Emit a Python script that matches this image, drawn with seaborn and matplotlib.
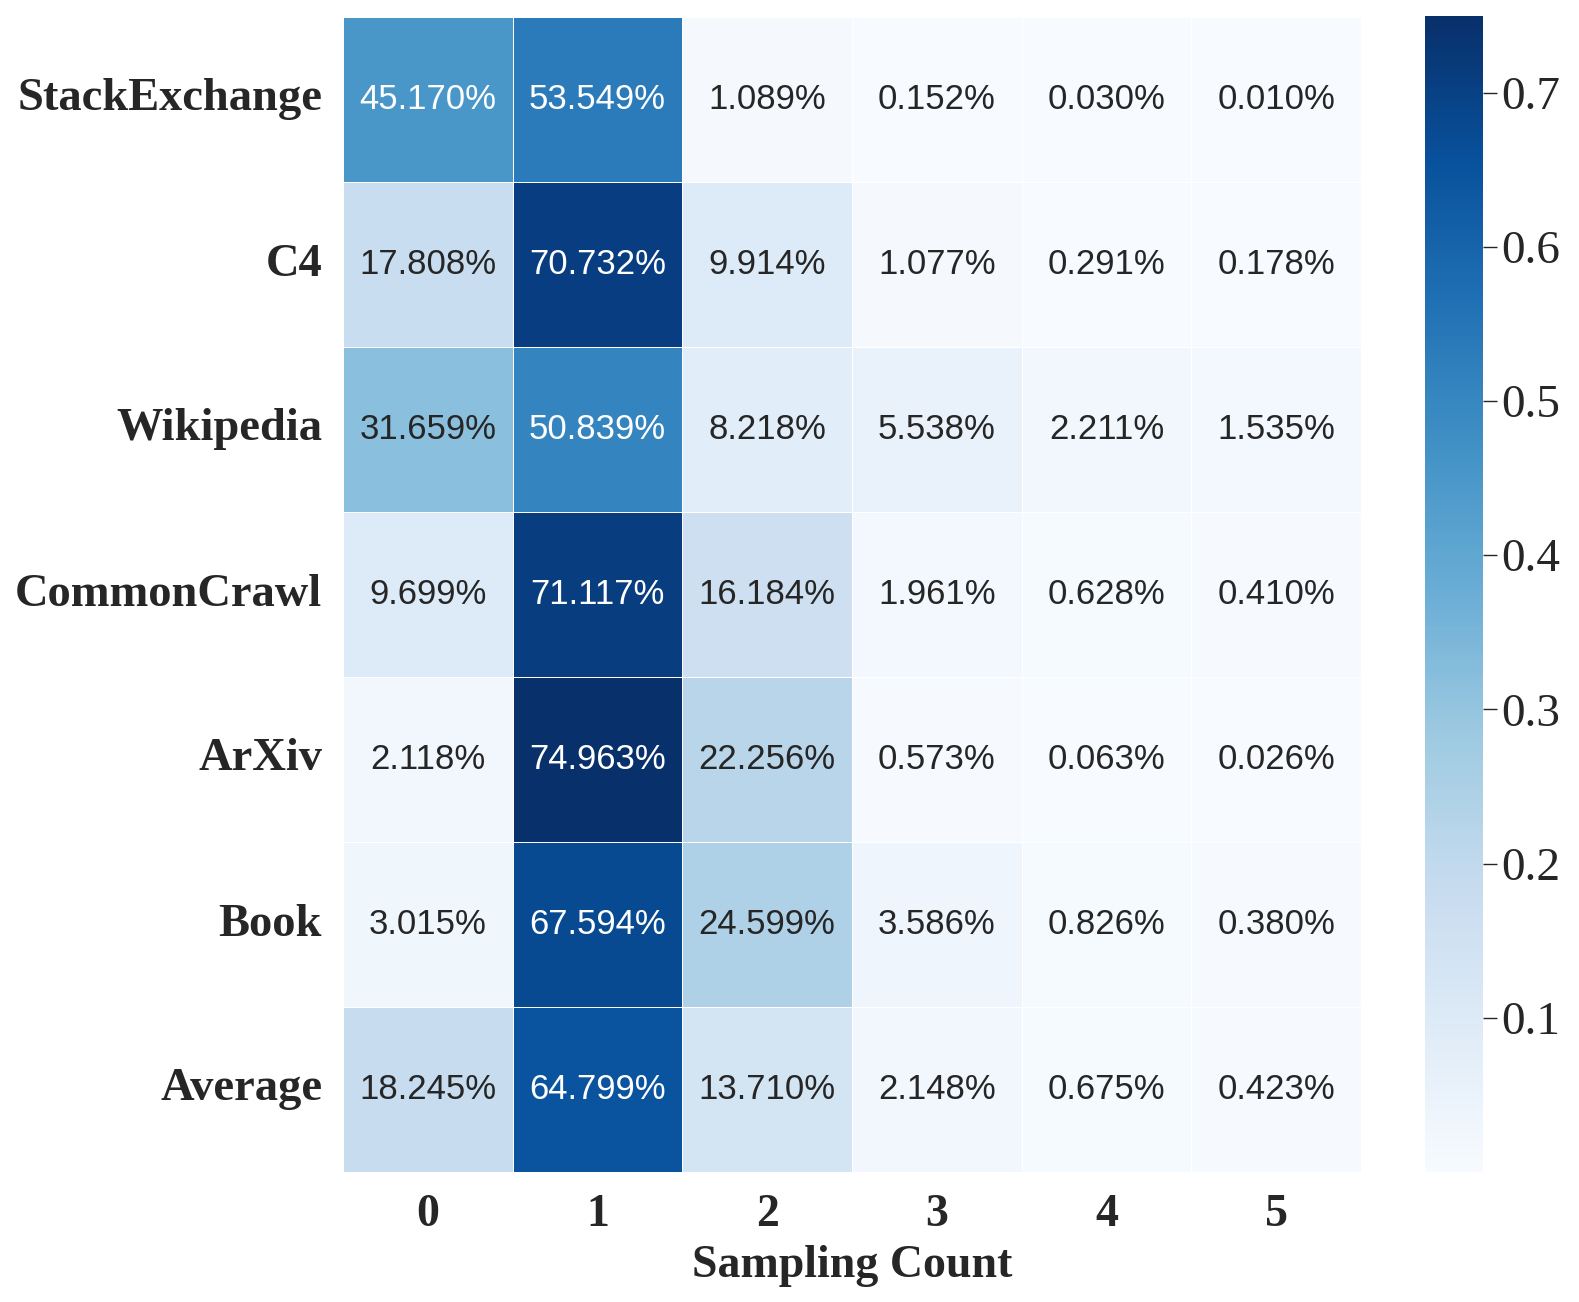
import numpy as np
import pandas as pd
import seaborn as sns
from matplotlib import pyplot as plt

# ----------------- data
sources = ['StackExchange', 'C4', 'Wikipedia', 'CommonCrawl', 'ArXiv', 'Book', 'Average']
counts = ['0', '1', '2', '3', '4', '5']

stackexchange = [45.170, 53.549, 1.089, 0.152, 0.030, 0.010]
c4 = [17.808, 70.732, 9.914, 1.077, 0.291, 0.178]
wikipedia = [31.659, 50.839, 8.218, 5.538, 2.211, 1.535]
commoncrawl = [9.699, 71.117, 16.184, 1.961, 0.628, 0.410]
arxiv = [2.118, 74.963, 22.256, 0.573, 0.063, 0.026]
book = [3.015, 67.594, 24.599, 3.586, 0.826, 0.380]
average = [18.245, 64.799, 13.710, 2.148, 0.675, 0.423]

rows = [stackexchange, c4, wikipedia, commoncrawl, arxiv, book, average]
df = pd.DataFrame(np.array(rows) / 100.0, index=sources, columns=counts)
labels = np.array([['%.3f%%' % (v * 100) for v in r] for r in df.values])

# ----------------- plot
sns.set_style("white")
plt.rcParams['font.family'] = ['Liberation Serif', 'DejaVu Serif']

W, H = 1579, 1302
fig = plt.figure(figsize=(W / 100, H / 100), dpi=100)
ax = fig.add_axes([343 / W, 1 - 1172 / H, 1018 / W, 1155 / H])
cax = fig.add_axes([1425 / W, 1 - 1172 / H, 58 / W, 1156 / H])

sns.heatmap(df, ax=ax, cbar_ax=cax, cmap='Blues', annot=labels, fmt='',
            linewidths=0.7, linecolor='white',
            annot_kws={'fontsize': 25, 'family': 'Liberation Sans'})

ax.set_xticklabels(counts, fontsize=33, fontweight='bold', rotation=0)
ax.set_yticklabels(sources, fontsize=33.5, fontweight='bold', rotation=0)
ax.tick_params(axis='x', length=0, pad=16)
ax.tick_params(axis='y', length=0, pad=15)
ax.set_xlabel('Sampling Count', fontsize=33, fontweight='bold', labelpad=6)
ax.set_ylabel('')

cax.tick_params(labelsize=34, length=10, width=1, color='#262626', pad=3)
cax.set_yticks([0.1, 0.2, 0.3, 0.4, 0.5, 0.6, 0.7])
for s in cax.spines.values():
    s.set_visible(False)

fig.savefig('out.png', dpi=100)
